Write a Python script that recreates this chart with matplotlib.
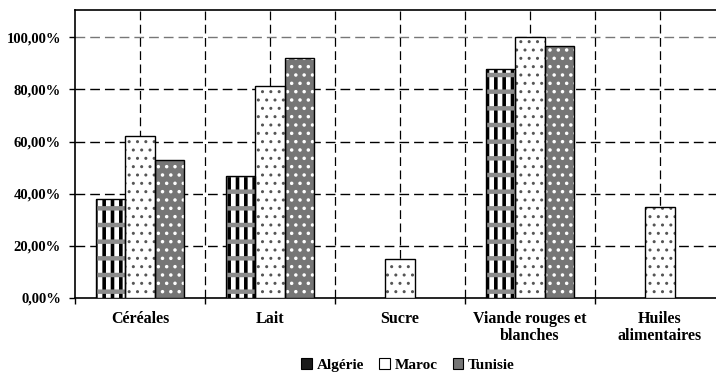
import matplotlib
matplotlib.use("Agg")
import matplotlib.pyplot as plt
import numpy as np
from matplotlib.patches import Patch
from matplotlib.ticker import FixedLocator, FuncFormatter, NullFormatter

categories = ["Céréales", "Lait", "Sucre", "Viande rouges et\nblanches", "Huiles\nalimentaires"]
series = ["Algérie", "Maroc", "Tunisie"]
algerie = [0.38, 0.47, 0.0, 0.88, 0.0]
maroc = [0.62, 0.815, 0.15, 1.00, 0.35]
tunisie = [0.53, 0.92, 0.0, 0.965, 0.0]
yticks = [0.0, 0.2, 0.4, 0.6, 0.8, 1.0]

plt.rcParams['font.family'] = ['Liberation Serif', 'DejaVu Serif']
plt.rcParams['font.weight'] = 'bold'

fig = plt.figure(figsize=(7.16, 3.73), dpi=100)
ax = fig.add_axes([75/716, 1-298/373, 650/716, 288/373])

x = np.arange(len(categories))
w = 0.225
values = [algerie, maroc, tunisie]
offsets = [-w, 0, w]

# layers: (face, hatch, hatch colour, hatch linewidth)
styles = [
    [("white", "||", "black", 2.6), ("none", "-", "#8c8c8c", 3.2)],
    [("white", "..", "#555555", 1.0)],
    [("#767676", "..", "white", 1.3)],
]

def layer_bar(xs, vals, face, hatch, hc, hlw):
    bars = ax.bar(xs, vals, w, facecolor=face, edgecolor=hc, hatch=hatch, linewidth=0, zorder=3)
    for b in bars:
        if hasattr(b, "set_hatch_linewidth"):
            b.set_hatch_linewidth(hlw)
    return bars

for vals, off, st in zip(values, offsets, styles):
    xs = x + off
    v = np.array(vals)
    mask = v > 0
    for (face, hatch, hc, hlw) in st:
        layer_bar(xs[mask], v[mask], face, hatch, hc, hlw)
    ax.bar(xs[mask], v[mask], w, facecolor="none", edgecolor="black", linewidth=1.0, zorder=4)

ax.set_xlim(-0.5, len(categories) - 0.5)
ax.set_ylim(0, 1.105)
ax.tick_params(axis='x', which='major', length=0)
ax.tick_params(axis='x', which='minor', length=4, width=1, direction='out')
ax.tick_params(axis='y', length=4, width=1, pad=6, labelsize=10.5)
ax.set_yticks(yticks)
ax.yaxis.set_major_formatter(FuncFormatter(lambda v, p: f"{v*100:.2f}%".replace(".", ",")))
ax.set_xticks(x)
ax.xaxis.set_major_formatter(NullFormatter())
ax.xaxis.set_minor_locator(FixedLocator(np.arange(len(categories) + 1) - 0.5))
for lab in ax.get_yticklabels():
    lab.set_fontweight('bold')

# category labels, each line centred under its category
for i, cat in enumerate(categories):
    for k, line in enumerate(cat.split("\n")):
        ax.annotate(line, xy=(x[i], 0), xycoords=ax.get_xaxis_transform(),
                    xytext=(0, -13 - 17 * k), textcoords='offset pixels',
                    ha='center', va='top', fontsize=11.5, fontweight='bold',
                    annotation_clip=False)

dash = (0, (7, 3.6))
for yv in yticks[1:]:
    ax.axhline(yv, color="#777777" if yv == 1.0 else "black", lw=1.0, ls=dash, zorder=1)
for xv in list(x) + list(np.arange(1, len(categories)) - 0.5):
    ax.axvline(xv, color="black", lw=0.9, ls=dash, zorder=1)

for s in ax.spines.values():
    s.set_linewidth(1.2)
    s.set_color("black")

legend_faces = ["#1a1a1a", "white", "#767676"]
handles = [Patch(facecolor=fc, edgecolor="black", linewidth=0.8, label=name)
           for fc, name in zip(legend_faces, series)]
fig.legend(handles=handles, loc='center', bbox_to_anchor=(408/716, 1-365/373), ncol=3,
           frameon=False, handlelength=0.7, handleheight=0.7,
           handletextpad=0.3, columnspacing=1.0, prop={'weight': 'bold', 'size': 11})

fig.savefig("out.png", dpi=100)
